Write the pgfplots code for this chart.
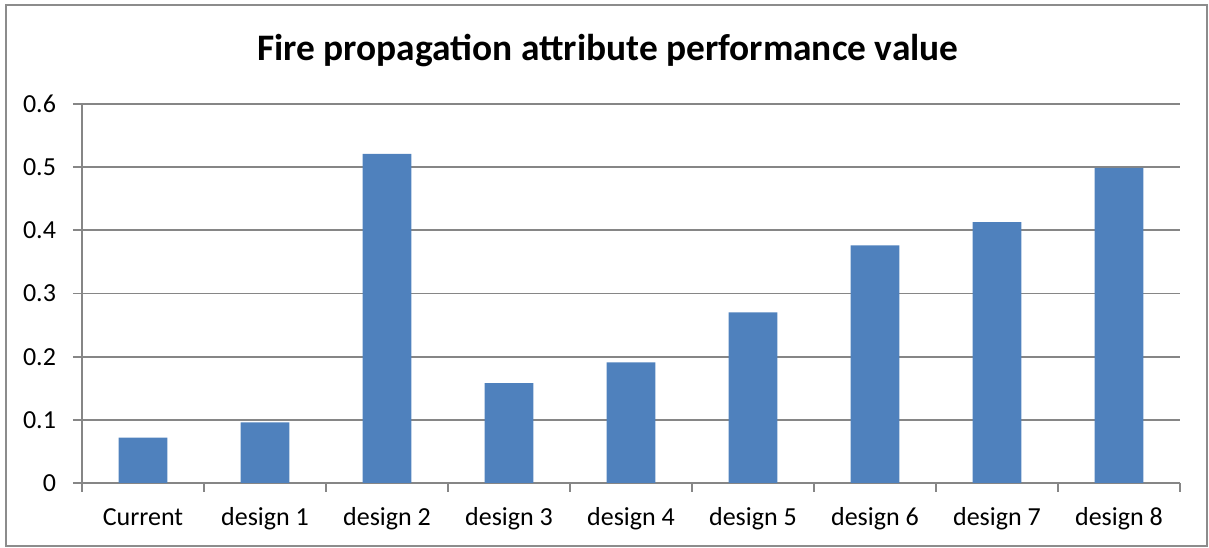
\documentclass[border=0pt]{standalone}
\usepackage{pgfplots}
\pgfplotsset{compat=1.18}
\usepackage{fontspec}
\setmainfont{Carlito}
\definecolor{barblue}{HTML}{4F81BD}
\definecolor{gridgray}{HTML}{868686}
\definecolor{framegray}{HTML}{8C8C8C}
\begin{document}
\begin{tikzpicture}
\path (0,0) rectangle (604.5bp,274bp);
\draw[framegray, line width=0.9bp] (3bp,1.2bp) rectangle (603.5bp,271.5bp);
\begin{axis}[
  at={(41bp,32.5bp)}, anchor=south west,
  scale only axis, width=549bp, height=189.5bp,
  xmin=-0.5, xmax=8.5, ymin=0, ymax=0.6,
  axis x line*=bottom, axis y line*=left,
  axis line style={gridgray, line width=0.9bp, -},
  ytick={0,0.1,0.2,0.3,0.4,0.5,0.6},
  yticklabels={0,0.1,0.2,0.3,0.4,0.5,0.6},
  xtick={-0.5,0.5,1.5,2.5,3.5,4.5,5.5,6.5,7.5,8.5},
  x tick label as interval,
  xticklabels={Current,design 1,design 2,design 3,design 4,design 5,design 6,design 7,design 8},
  tick align=outside,
  major tick length=4.5bp,
  tick style={gridgray, line width=0.9bp},
  ymajorgrids, grid style={gridgray, line width=0.9bp},
  /pgf/number format/assume math mode=true,
  ticklabel style={font=\fontsize{13bp}{15bp}\selectfont},
  yticklabel style={xshift=-5bp},
  xticklabel style={yshift=-4bp, text height=9.2bp, text depth=3bp},
  bar width=0.4, ybar,
]
\addplot[fill=barblue, draw=none] coordinates {
(0,0.072) (1,0.096) (2,0.521) (3,0.158) (4,0.191) (5,0.270) (6,0.376) (7,0.413) (8,0.499)};
\end{axis}
\node[anchor=base, font=\fontsize{18.7bp}{21bp}\selectfont\bfseries] at (304bp,243.5bp) {Fire propagation attribute performance value};
\end{tikzpicture}
\end{document}
